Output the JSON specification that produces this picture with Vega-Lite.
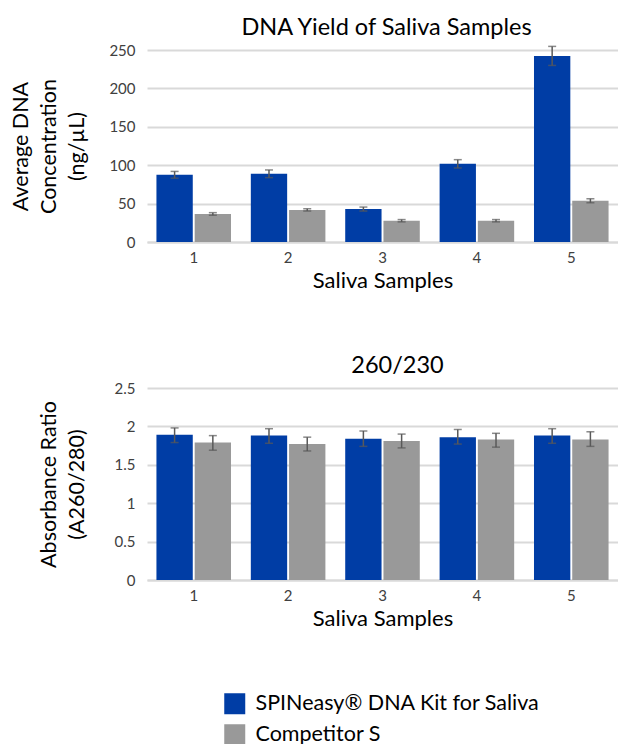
{
  "$schema": "https://vega.github.io/schema/vega-lite/v6.json",
  "padding": {"left": 10, "right": 0, "top": 15, "bottom": 0},
  "datasets": {
    "yield": [
      {"sample": "1", "series": "SPINeasy® DNA Kit for Saliva", "value": 87.5, "lo": 83.1, "hi": 91.9},
      {"sample": "1", "series": "Competitor S", "value": 36.5, "lo": 34.8, "hi": 38.2},
      {"sample": "2", "series": "SPINeasy® DNA Kit for Saliva", "value": 88.8, "lo": 83.8, "hi": 93.8},
      {"sample": "2", "series": "Competitor S", "value": 41.8, "lo": 40.3, "hi": 43.3},
      {"sample": "3", "series": "SPINeasy® DNA Kit for Saliva", "value": 42.9, "lo": 40.3, "hi": 45.5},
      {"sample": "3", "series": "Competitor S", "value": 27.7, "lo": 26.2, "hi": 29.2},
      {"sample": "4", "series": "SPINeasy® DNA Kit for Saliva", "value": 101.8, "lo": 96.4, "hi": 107.2},
      {"sample": "4", "series": "Competitor S", "value": 27.7, "lo": 26.2, "hi": 29.2},
      {"sample": "5", "series": "SPINeasy® DNA Kit for Saliva", "value": 242.3, "lo": 229.9, "hi": 254.7},
      {"sample": "5", "series": "Competitor S", "value": 53.7, "lo": 51.1, "hi": 56.3}
    ],
    "ratio": [
      {"sample": "1", "series": "SPINeasy® DNA Kit for Saliva", "value": 1.89, "lo": 1.79, "hi": 1.98},
      {"sample": "1", "series": "Competitor S", "value": 1.79, "lo": 1.69, "hi": 1.88},
      {"sample": "2", "series": "SPINeasy® DNA Kit for Saliva", "value": 1.88, "lo": 1.78, "hi": 1.97},
      {"sample": "2", "series": "Competitor S", "value": 1.77, "lo": 1.68, "hi": 1.86},
      {"sample": "3", "series": "SPINeasy® DNA Kit for Saliva", "value": 1.84, "lo": 1.74, "hi": 1.94},
      {"sample": "3", "series": "Competitor S", "value": 1.81, "lo": 1.72, "hi": 1.9},
      {"sample": "4", "series": "SPINeasy® DNA Kit for Saliva", "value": 1.86, "lo": 1.77, "hi": 1.96},
      {"sample": "4", "series": "Competitor S", "value": 1.83, "lo": 1.73, "hi": 1.91},
      {"sample": "5", "series": "SPINeasy® DNA Kit for Saliva", "value": 1.88, "lo": 1.78, "hi": 1.97},
      {"sample": "5", "series": "Competitor S", "value": 1.83, "lo": 1.74, "hi": 1.93}
    ]
  },
  "config": {
    "font": "Lato",
    "view": {"stroke": null},
    "concat": {"spacing": 62},
    "title": {"fontSize": 23.5, "fontWeight": "normal", "color": "#000000", "offset": 4, "frame": "group"},
    "axisY": {"domain": false, "ticks": false, "gridColor": "#d9d9d9", "gridWidth": 2, "labelFontSize": 15, "labelColor": "#404040", "labelPadding": 12, "labelOverlap": false, "titleFontSize": 21.5, "titleFontWeight": "normal", "titleColor": "#000000", "titleLineHeight": 28},
    "axisX": {"domain": true, "domainColor": "#d9d9d9", "domainWidth": 2, "ticks": false, "grid": false, "labelAngle": 0, "labelFontSize": 15, "labelColor": "#404040", "labelPadding": 8, "titleFontSize": 22, "titleFontWeight": "normal", "titleColor": "#000000", "titlePadding": 5},
    "legend": {"orient": "none", "legendX": 77, "legendY": 643, "symbolType": "square", "symbolSize": 441, "symbolStrokeWidth": 0, "labelFontSize": 21.5, "labelColor": "#000000", "rowPadding": 8, "labelOffset": 10, "labelLimit": 400}
  },
  "resolve": {"scale": {"color": "shared"}},
  "vconcat": [
    {
      "width": 471,
      "height": 192,
      "title": {"text": "DNA Yield of Saliva Samples", "dx": 4},
      "data": {"name": "yield"},
      "encoding": {
        "x": {"field": "sample", "type": "nominal", "title": "Saliva Samples", "scale": {"paddingInner": 0.21, "paddingOuter": 0.1}},
        "xOffset": {"field": "series", "type": "nominal", "scale": {"domain": ["SPINeasy® DNA Kit for Saliva", "Competitor S"], "paddingInner": 0.05}}
      },
      "layer": [
        {
          "mark": {"type": "bar"},
          "encoding": {
            "y": {"field": "value", "type": "quantitative", "scale": {"domain": [0, 250]}, "axis": {"values": [0, 50, 100, 150, 200, 250], "titlePadding": 20}, "title": ["Average DNA", "Concentration", "(ng/µL)"]},
            "color": {"field": "series", "type": "nominal", "scale": {"domain": ["SPINeasy® DNA Kit for Saliva", "Competitor S"], "range": ["#003DA5", "#999999"]}, "legend": {"title": null}}
          }
        },
        {
          "mark": {"type": "rule", "color": "#595959", "strokeWidth": 1.5},
          "encoding": {"y": {"field": "lo", "type": "quantitative", "scale": {"domain": [0, 250]}, "axis": {"values": [0, 50, 100, 150, 200, 250], "titlePadding": 20}, "title": ["Average DNA", "Concentration", "(ng/µL)"]}, "y2": {"field": "hi"}}
        },
        {
          "mark": {"type": "tick", "color": "#595959", "size": 8, "thickness": 1.5},
          "encoding": {"y": {"field": "lo", "type": "quantitative", "scale": {"domain": [0, 250]}, "axis": {"values": [0, 50, 100, 150, 200, 250], "titlePadding": 20}, "title": ["Average DNA", "Concentration", "(ng/µL)"]}}
        },
        {
          "mark": {"type": "tick", "color": "#595959", "size": 8, "thickness": 1.5},
          "encoding": {"y": {"field": "hi", "type": "quantitative", "scale": {"domain": [0, 250]}, "axis": {"values": [0, 50, 100, 150, 200, 250], "titlePadding": 20}, "title": ["Average DNA", "Concentration", "(ng/µL)"]}}
        }
      ]
    },
    {
      "width": 471,
      "height": 192,
      "title": {"text": "260/230", "dx": 15},
      "data": {"name": "ratio"},
      "encoding": {
        "x": {"field": "sample", "type": "nominal", "title": "Saliva Samples", "scale": {"paddingInner": 0.21, "paddingOuter": 0.1}},
        "xOffset": {"field": "series", "type": "nominal", "scale": {"domain": ["SPINeasy® DNA Kit for Saliva", "Competitor S"], "paddingInner": 0.05}}
      },
      "layer": [
        {
          "mark": {"type": "bar"},
          "encoding": {
            "y": {"field": "value", "type": "quantitative", "scale": {"domain": [0, 2.5]}, "axis": {"values": [0, 0.5, 1, 1.5, 2, 2.5], "format": "~g", "titlePadding": 26}, "title": ["Absorbance Ratio", "(A260/280)"]},
            "color": {"field": "series", "type": "nominal", "legend": {"title": null}}
          }
        },
        {
          "mark": {"type": "rule", "color": "#595959", "strokeWidth": 1.5},
          "encoding": {"y": {"field": "lo", "type": "quantitative", "scale": {"domain": [0, 2.5]}, "axis": {"values": [0, 0.5, 1, 1.5, 2, 2.5], "format": "~g", "titlePadding": 26}, "title": ["Absorbance Ratio", "(A260/280)"]}, "y2": {"field": "hi"}}
        },
        {
          "mark": {"type": "tick", "color": "#595959", "size": 8, "thickness": 1.5},
          "encoding": {"y": {"field": "lo", "type": "quantitative", "scale": {"domain": [0, 2.5]}, "axis": {"values": [0, 0.5, 1, 1.5, 2, 2.5], "format": "~g", "titlePadding": 26}, "title": ["Absorbance Ratio", "(A260/280)"]}}
        },
        {
          "mark": {"type": "tick", "color": "#595959", "size": 8, "thickness": 1.5},
          "encoding": {"y": {"field": "hi", "type": "quantitative", "scale": {"domain": [0, 2.5]}, "axis": {"values": [0, 0.5, 1, 1.5, 2, 2.5], "format": "~g", "titlePadding": 26}, "title": ["Absorbance Ratio", "(A260/280)"]}}
        }
      ]
    }
  ]
}
